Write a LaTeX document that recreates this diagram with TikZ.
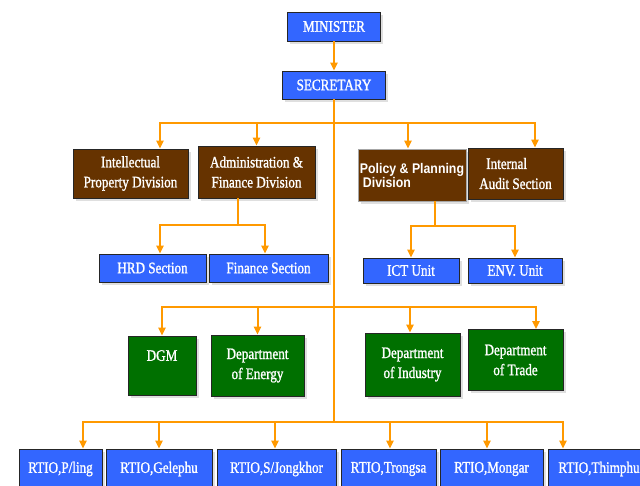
\documentclass[tikz,border=0pt]{standalone}
\usepackage{fontspec}
\setmainfont{Liberation Serif}[FakeStretch=0.82, FakeBold=1.2]
\newfontfamily\ppfont{Liberation Sans}[FakeStretch=0.88]
\usepackage{tikz}
\usetikzlibrary{arrows.meta}
\usetikzlibrary{shadows}
\definecolor{boxblue}{RGB}{51,102,255}
\definecolor{boxbrown}{RGB}{102,51,0}
\definecolor{boxgreen}{RGB}{0,112,0}
\definecolor{wireorange}{RGB}{255,153,0}

\tikzset{
  box/.style={draw=black!85, line width=0.8pt, text=white, inner sep=0pt, align=center,
    font=\fontsize{16}{20}\selectfont,
    drop shadow={shadow xshift=2.5pt, shadow yshift=-2.5pt, fill=black!25}},
  boxsize/.style 2 args={minimum width=#1pt, minimum height=#2pt},
  bluebox/.style={box, fill=boxblue},
  brownbox/.style={box, fill=boxbrown},
  greenbox/.style={box, fill=boxgreen},
  wire/.style={draw=wireorange, line width=2pt},
  arr/.style={wire, -{Triangle[width=7pt,length=8pt]}},
}

\begin{document}
\begin{tikzpicture}[x=1pt, y=-1pt]
  \useasboundingbox (0,0) rectangle (640,485);

  % top
  \node[bluebox, boxsize={93}{29}] (min) at (334,26.5) {MINISTER};
  \node[bluebox, boxsize={103}{28}] (sec) at (334,85) {SECRETARY};

  % divisions
  \node[brownbox, boxsize={115}{49}] (ipd) at (130.5,173.5) {Intellectual\\Property Division};
  \node[brownbox, boxsize={117}{52}] (afd) at (256.5,172) {Administration \&\\Finance Division};
  \node[brownbox, boxsize={108}{52}, draw=black!35, align=left,
        font=\ppfont\bfseries\fontsize{14}{14}\selectfont] (ppd) at (412,175) {Policy \& Planning\\\hspace{3pt}Division};
  \node[brownbox, boxsize={95}{51}, align=left] (ias) at (515.5,173.5) {\hspace{7pt}Internal\\Audit Section};

  % sections and units
  \node[bluebox, boxsize={107}{28}] (hrd) at (152.5,268) {HRD Section};
  \node[bluebox, boxsize={119}{28}] (fin) at (268.5,268) {Finance Section};
  \node[bluebox, boxsize={96}{25}] (ict) at (411,270.5) {ICT Unit};
  \node[bluebox, boxsize={94}{25}] (env) at (515,270.5) {ENV. Unit};

  % departments
  \node[greenbox, boxsize={68}{59}] (dgm) at (162,365.5) {DGM\\\mbox{}};
  \node[greenbox, boxsize={93}{61}] (ene) at (257.5,365.5) {Department\\of Energy};
  \node[greenbox, boxsize={95}{63}] (ind) at (412.5,364.5) {Department\\of Industry};
  \node[greenbox, boxsize={95}{61}] (trd) at (515.5,360) {Department\\of Trade};

  % regional offices
  \node[bluebox, boxsize={83}{40}] (rp) at (60.5,469) {RTIO,P/ling};
  \node[bluebox, boxsize={106}{40}] (rg) at (159,469) {RTIO,Gelephu};
  \node[bluebox, boxsize={119}{40}] (rs) at (276.5,469) {RTIO,S/Jongkhor};
  \node[bluebox, boxsize={95}{40}] (rt) at (388.5,469) {RTIO,Trongsa};
  \node[bluebox, boxsize={103}{40}] (rm) at (491.5,469) {RTIO,Mongar};
  \node[bluebox, boxsize={102}{40}] (rth) at (599,469) {RTIO,Thimphu};

  % bus points
  \coordinate (t1) at (334,123);
  \coordinate (t3) at (334,307);
  \coordinate (t4) at (334,422);
  \coordinate (t2a) at (0,225);
  \coordinate (t2b) at (0,226);

  % arrow ends and drops
  \coordinate (ipd-in) at ([xshift=29.5pt]ipd.north);
  \coordinate (afd-in) at (afd.north);
  \coordinate (ppd-in) at ([xshift=-4pt]ppd.north);
  \coordinate (ias-in) at ([xshift=19.5pt]ias.north);
  \coordinate (afd-out) at ([xshift=-18.5pt]afd.south);
  \coordinate (ppd-out) at ([xshift=23pt]ppd.south);
  \coordinate (hrd-in) at ([xshift=7.5pt]hrd.north);
  \coordinate (fin-in) at ([xshift=-3.5pt]fin.north);
  \coordinate (ict-in) at (ict.north);
  \coordinate (env-in) at (env.north);
  \coordinate (ind-in) at ([xshift=-2.5pt]ind.north);
  \coordinate (trd-in) at ([xshift=20.5pt]trd.north);
  \coordinate (rp-in) at ([xshift=22.5pt]rp.north);
  \coordinate (rs-in) at ([xshift=-1.5pt]rs.north);
  \coordinate (rt-in) at ([xshift=1.5pt]rt.north);
  \coordinate (rm-in) at ([xshift=-4.5pt]rm.north);
  \coordinate (rth-in) at ([xshift=-36pt]rth.north);

  % connectors
  \draw[arr] (min) -- (sec);
  \draw[wire] (sec.south) -- (t4);

  \draw[arr] (t1) -| (ipd-in);
  \draw[arr] (t1) -| (afd-in);
  \draw[arr] (t1) -| (ppd-in);
  \draw[arr] (t1) -| (ias-in);

  \draw[wire] (afd-out) -- (afd-out |- t2a);
  \draw[arr] (afd-out |- t2a) -| (hrd-in);
  \draw[arr] (afd-out |- t2a) -| (fin-in);
  \draw[wire] (ppd-out) -- (ppd-out |- t2b);
  \draw[arr] (ppd-out |- t2b) -| (ict-in);
  \draw[arr] (ppd-out |- t2b) -| (env-in);

  \draw[arr] (t3) -| (dgm.north);
  \draw[arr] (t3) -| (ene.north);
  \draw[arr] (t3) -| (ind-in);
  \draw[arr] (t3) -| (trd-in);

  \draw[arr] (t4) -| (rp-in);
  \draw[arr] (t4) -| (rg.north);
  \draw[arr] (t4) -| (rs-in);
  \draw[arr] (t4) -| (rt-in);
  \draw[arr] (t4) -| (rm-in);
  \draw[arr] (t4) -| (rth-in);
\end{tikzpicture}
\end{document}
